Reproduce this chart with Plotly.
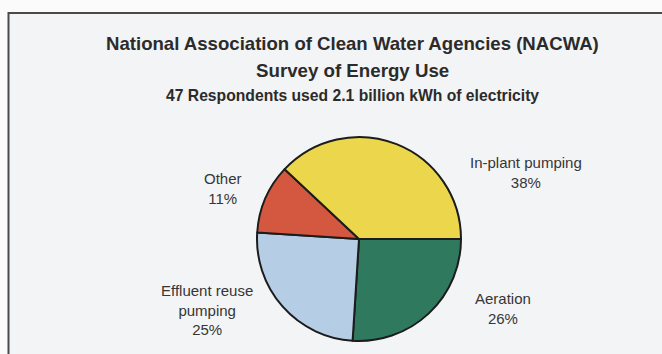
import plotly.graph_objects as go

# Data (clockwise from 3 o'clock)
categories = ["Aeration", "Effluent reuse pumping", "Other", "In-plant pumping"]
label_text = ["Aeration", "Effluent reuse<br>pumping", "Other", "In-plant pumping"]
values = [26, 25, 11, 38]
colors = ["#2f7a5f", "#b5cde5", "#d4583f", "#ecd64c"]

title_lines = [
    "National Association of Clean Water Agencies (NACWA)",
    "Survey of Energy Use",
    "47 Respondents used 2.1 billion kWh of electricity",
]

W, H = 662, 354
title_font = "Liberation Sans, Arial, sans-serif"
regular = "Liberation Sans, Arial, sans-serif"

fig = go.Figure()

cx, cy, r = 359, 239, 102
fig.add_trace(go.Pie(
    labels=categories,
    values=values,
    sort=False,
    direction="clockwise",
    rotation=90,
    textinfo="none",
    hoverinfo="label+percent",
    marker=dict(colors=colors, line=dict(color="#1c1c1c", width=2)),
    domain=dict(x=[(cx - r) / W, (cx + r) / W], y=[1 - (cy + r) / H, 1 - (cy - r) / H]),
    showlegend=False,
))

annotations = []
# Title lines
for txt, y, size in zip(title_lines, [43, 70, 95], [18.6, 18.7, 15.7]):
    annotations.append(dict(
        text="<b>%s</b>" % txt, x=353 / W, y=1 - y / H, xref="paper", yref="paper",
        xanchor="center", yanchor="middle", showarrow=False,
        font=dict(family=title_font, size=size, color="#2b2b2b"),
    ))

# Slice labels
label_pos = {
    "Aeration": (503, 308),
    "Effluent reuse pumping": (207, 310),
    "Other": (223, 188),
    "In-plant pumping": (526, 172),
}
for cat, lt, v in zip(categories, label_text, values):
    x, y = label_pos[cat]
    annotations.append(dict(
        text="%s<br>%d%%" % (lt, v), x=x / W, y=1 - y / H, xref="paper", yref="paper",
        xanchor="center", yanchor="middle", showarrow=False, align="center",
        font=dict(family=regular, size=15, color="#363636"),
    ))

fig.update_layout(
    width=W, height=H,
    margin=dict(l=0, r=0, t=0, b=0),
    paper_bgcolor="#fbfbfb",
    plot_bgcolor="#fbfbfb",
    annotations=annotations,
    shapes=[dict(
        type="rect", xref="paper", yref="paper",
        x0=8.5 / W, x1=1.05, y0=-0.05, y1=1 - 13 / H,
        line=dict(color="#4a4a4a", width=2), fillcolor="#f3f4f5", layer="below",
    )],
)

fig.write_html("out.html")
